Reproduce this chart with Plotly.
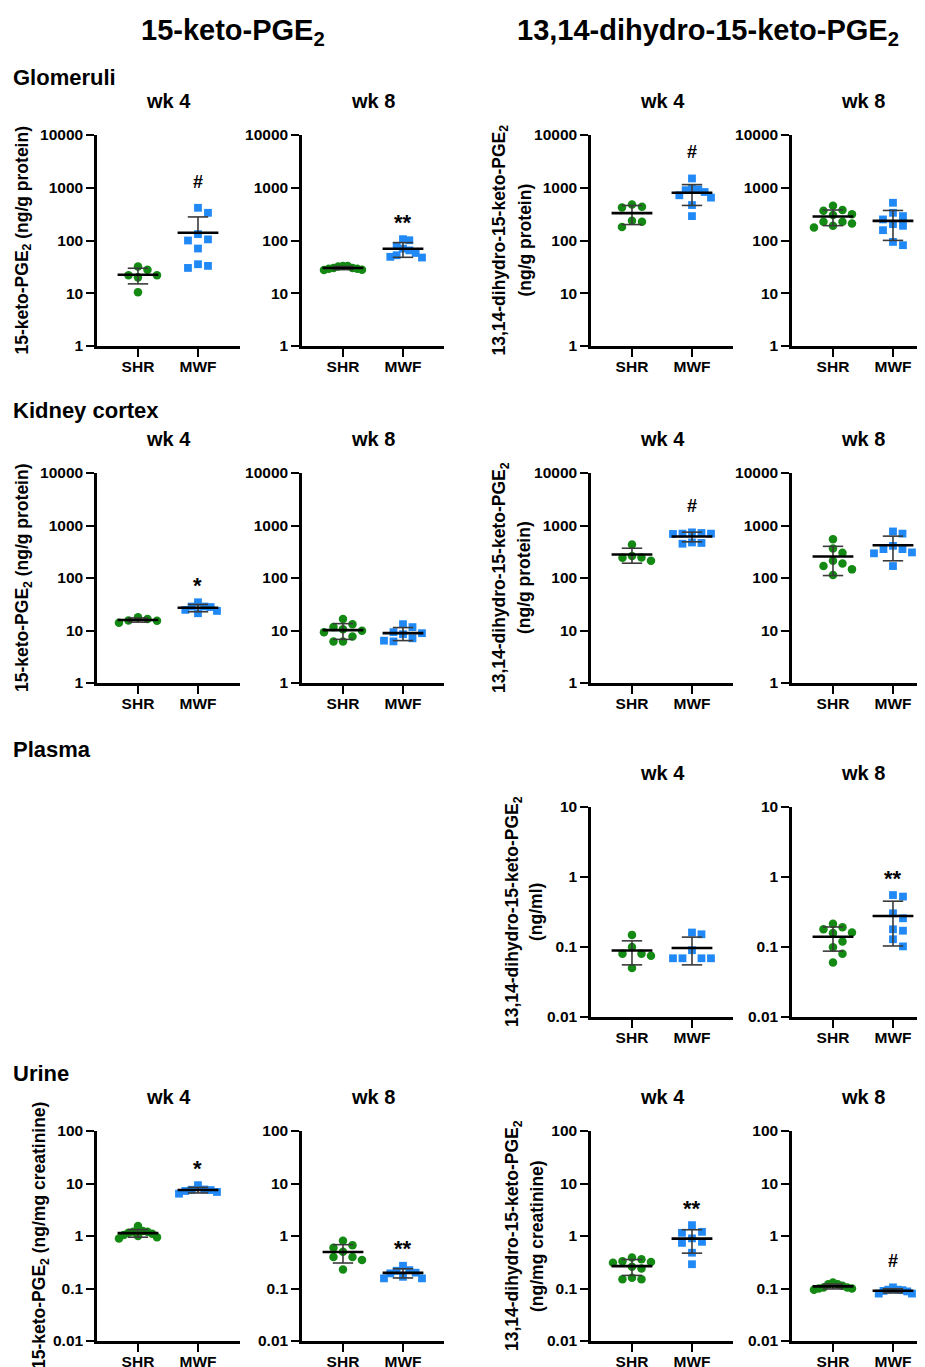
import math
import numpy as np
import plotly.graph_objects as go

# ---------------- data ----------------
groups = ["SHR", "MWF"]

glom_keto_wk4_shr = [22, 32, 28, 20, 10.5, 22]
glom_keto_wk4_mwf = [417, 335, 100, 132, 105, 70.5, 30.2, 35.5, 33]
glom_keto_wk8_shr = [30, 32, 33, 27.5, 33, 29, 28, 30, 29]
glom_keto_wk8_mwf = [65, 101, 106, 78, 47.5, 58, 49, 52.5, 70]
glom_dh_wk4_shr = [435, 481, 424, 181, 236, 226]
glom_dh_wk4_mwf = [1500, 900, 950, 930, 720, 830, 470, 290, 650]
glom_dh_wk8_shr = [456, 377, 365, 316, 226, 226, 190, 177, 303, 210]
glom_dh_wk8_mwf = [519, 335, 290, 251, 190, 204, 157, 94, 81.5]

ctx_keto_wk4_shr = [15.3, 17.9, 15.5, 16.6, 14.1]
ctx_keto_wk4_mwf = [23.6, 34.5, 28.6, 28, 21.3, 28.6, 24.7]
ctx_keto_wk8_shr = [11.6, 9.9, 13.2, 16.6, 10.6, 6.2, 6.2, 7.7, 9.3]
ctx_keto_wk8_mwf = [13.2, 6.2, 8.9, 9.3, 6.4, 11.6, 7.1, 8.5]
ctx_dh_wk4_shr = [213, 262, 436, 247, 243]
ctx_dh_wk4_mwf = [740, 690, 720, 700, 700, 465, 450, 475]
ctx_dh_wk8_shr = [366, 550, 303, 189, 169, 213, 114, 146]
ctx_dh_wk8_mwf = [700, 770, 355, 410, 355, 295, 307, 169]

pla_dh_wk4_shr = [0.149, 0.08, 0.075, 0.08, 0.05, 0.10]
pla_dh_wk4_mwf = [0.152, 0.161, 0.069, 0.069, 0.069, 0.069, 0.09]
pla_dh_wk8_shr = [0.214, 0.179, 0.191, 0.161, 0.158, 0.12, 0.099, 0.08, 0.06]
pla_dh_wk8_mwf = [0.525, 0.552, 0.257, 0.303, 0.171, 0.179, 0.129, 0.102]

uri_keto_wk4_shr = [1.2, 1.1, 1.55, 1.25, 1.2, 1.0, 0.95, 0.9, 1.15, 1.05]
uri_keto_wk4_mwf = [9.3, 6.9, 7.7, 7.5, 6.4, 7.2, 7.6]
uri_keto_wk8_shr = [0.6, 0.67, 0.81, 0.4, 0.5, 0.4, 0.23, 0.35]
uri_keto_wk8_mwf = [0.218, 0.156, 0.194, 0.224, 0.156, 0.271, 0.167, 0.2]
uri_dh_wk4_shr = [0.36, 0.32, 0.39, 0.33, 0.31, 0.15, 0.15, 0.16, 0.26, 0.24]
uri_dh_wk4_mwf = [1.61, 1.2, 1.15, 0.9, 0.775, 0.74, 0.48, 0.29]
uri_dh_wk8_shr = [0.12, 0.12, 0.105, 0.113, 0.13, 0.105, 0.095, 0.1, 0.1]
uri_dh_wk8_mwf = [0.09, 0.095, 0.105, 0.088, 0.08, 0.08, 0.093, 0.095]

tick_tissue = [1, 10, 100, 1000, 10000]
tick_tissue_text = ["1", "10", "100", "1000", "10000"]
tick_plasma = [0.01, 0.1, 1, 10]
tick_plasma_text = ["0.01", "0.1", "1", "10"]
tick_urine = [0.01, 0.1, 1, 10, 100]
tick_urine_text = ["0.01", "0.1", "1", "10", "100"]

col_titles = ["15-keto-PGE<sub>2</sub>", "13,14-dihydro-15-keto-PGE<sub>2</sub>"]
section_titles = ["Glomeruli", "Kidney cortex", "Plasma", "Urine"]
week_labels = ["wk 4", "wk 8"]

# (row, col, SHR values, MWF values, significance label over MWF)
panels = [
    (0, 0, glom_keto_wk4_shr, glom_keto_wk4_mwf, "#"),
    (0, 1, glom_keto_wk8_shr, glom_keto_wk8_mwf, "**"),
    (0, 2, glom_dh_wk4_shr, glom_dh_wk4_mwf, "#"),
    (0, 3, glom_dh_wk8_shr, glom_dh_wk8_mwf, ""),
    (1, 0, ctx_keto_wk4_shr, ctx_keto_wk4_mwf, "*"),
    (1, 1, ctx_keto_wk8_shr, ctx_keto_wk8_mwf, ""),
    (1, 2, ctx_dh_wk4_shr, ctx_dh_wk4_mwf, "#"),
    (1, 3, ctx_dh_wk8_shr, ctx_dh_wk8_mwf, ""),
    (2, 2, pla_dh_wk4_shr, pla_dh_wk4_mwf, ""),
    (2, 3, pla_dh_wk8_shr, pla_dh_wk8_mwf, "**"),
    (3, 0, uri_keto_wk4_shr, uri_keto_wk4_mwf, "*"),
    (3, 1, uri_keto_wk8_shr, uri_keto_wk8_mwf, "**"),
    (3, 2, uri_dh_wk4_shr, uri_dh_wk4_mwf, "**"),
    (3, 3, uri_dh_wk8_shr, uri_dh_wk8_mwf, "#"),
]

# ---------------- layout geometry ----------------
W, H = 925, 1367
PAGE_OFF = 8  # page body margin in the browser
FONT = "Liberation Sans, Arial, Helvetica, sans-serif"
GREEN = "#148a14"
BLUE = "#2189f5"
PX_PER_CAT = 60.0
LEFT_PAD = 0.683

col_px = [(97, 240), (302, 444), (591, 733), (792, 933)]
row_px = [(135, 346), (473, 683), (807, 1017), (1131, 1341)]
row_range = [(0, 4), (0, 4), (-2, 1), (-2, 2)]
row_ticks = [(tick_tissue, tick_tissue_text), (tick_tissue, tick_tissue_text),
             (tick_plasma, tick_plasma_text), (tick_urine, tick_urine_text)]


def px2x(px):
    return min(1.0, max(0.0, (px - PAGE_OFF) / W))


def px2y(py):
    return min(1.0, max(0.0, 1 - (py - PAGE_OFF) / H))


def swarm_offsets(vals, px_per_dec, step=10.0, dmin=9.0, maxhalf=19.0):
    ys = [math.log10(v) * px_per_dec for v in vals]
    order = sorted(range(len(vals)), key=lambda i: -ys[i])
    xs = [0.0] * len(vals)
    placed = []
    cands = [0.0]
    for m in range(1, 25):
        cands += [m * step, -m * step]
    for i in order:
        for c in cands:
            if all((c - xo) ** 2 + (ys[i] - yo) ** 2 >= dmin ** 2 for xo, yo in placed):
                xs[i] = c
                break
        placed.append((xs[i], ys[i]))
    m = max(abs(x) for x in xs)
    if m > maxhalf:
        xs = [x * maxhalf / m for x in xs]
    return [x / PX_PER_CAT for x in xs]


fig = go.Figure()
annotations = []
layout_axes = {}
TICKFONT = dict(family=FONT, size=15.5, color="black", weight="bold")

for k, (r, c, shr, mwf, sig) in enumerate(panels):
    idx = k + 1
    xa = "x" if idx == 1 else f"x{idx}"
    ya = "y" if idx == 1 else f"y{idx}"
    x0p, x1p = col_px[c]
    y0p, y1p = row_px[r]
    lo, hi = row_range[r]
    px_per_dec = (y1p - y0p) / (hi - lo)
    d0, d1 = px2x(x0p), px2x(x1p)
    width_units = (d1 - d0) * W / PX_PER_CAT

    mean_x, mean_y, err_x, err_y = [], [], [], []
    for gi, (vals, color, symbol) in enumerate(
            [(shr, GREEN, "circle"), (mwf, BLUE, "square")]):
        offs = swarm_offsets(vals, px_per_dec)
        fig.add_trace(go.Scatter(
            x=[gi + o for o in offs], y=vals, mode="markers",
            marker=dict(color=color, symbol=symbol, size=8.5 if symbol == "circle" else 7.8,
                        line=dict(width=0)),
            xaxis=xa, yaxis=ya, showlegend=False, hoverinfo="y"))
        m = float(np.mean(vals))
        sd = float(np.std(vals, ddof=1))
        mean_x += [gi - 0.34, gi + 0.34, None]
        mean_y += [m, m, None]
        top = m + sd
        bot = m - sd
        err_x += [gi - 0.17, gi + 0.17, None]
        err_y += [top, top, None]
        if bot > 0:
            err_x += [gi, gi, None, gi - 0.17, gi + 0.17, None]
            err_y += [top, bot, None, bot, bot, None]
        else:
            err_x += [gi, gi, None]
            err_y += [top, m, None]
        if gi == 1 and sig:
            ymax = max(max(vals), top)
            is_hash = sig == "#"
            annotations.append(dict(
                x=1, y=math.log10(ymax), xref=xa, yref=ya, text=sig,
                showarrow=False, yshift=26 if is_hash else 17,
                font=dict(family=FONT, size=18 if is_hash else 22,
                          color="black", weight="bold")))
    fig.add_trace(go.Scatter(x=err_x, y=err_y, mode="lines",
                             line=dict(color="#3a3a3a", width=1.6),
                             xaxis=xa, yaxis=ya, showlegend=False, hoverinfo="skip"))
    fig.add_trace(go.Scatter(x=mean_x, y=mean_y, mode="lines",
                             line=dict(color="black", width=2.6),
                             xaxis=xa, yaxis=ya, showlegend=False, hoverinfo="skip"))

    tv, tt = row_ticks[r]
    layout_axes["xaxis" if idx == 1 else f"xaxis{idx}"] = dict(
        domain=[d0, d1], anchor=ya, automargin=False,
        range=[-LEFT_PAD, -LEFT_PAD + width_units],
        tickmode="array", tickvals=[0, 1], ticktext=groups,
        showline=True, linecolor="black", linewidth=2.5,
        ticks="outside", ticklen=8, tickwidth=2.2, tickcolor="black",
        ticklabelstandoff=-3,
        showgrid=False, zeroline=False, fixedrange=True, tickfont=TICKFONT)
    layout_axes["yaxis" if idx == 1 else f"yaxis{idx}"] = dict(
        domain=[px2y(y1p), px2y(y0p)], anchor=xa, type="log", automargin=False,
        range=[lo, hi], tickmode="array", tickvals=tv, ticktext=tt,
        showline=True, linecolor="black", linewidth=2.5,
        ticks="outside", ticklen=8, tickwidth=2.2, tickcolor="black",
        showgrid=False, zeroline=False, fixedrange=True, tickfont=TICKFONT)

    # week label above the panel (centred on the full axis length)
    annotations.append(dict(
        x=px2x(x0p + 71), y=px2y(y0p - 34), xref="paper", yref="paper",
        text=week_labels[c % 2], showarrow=False, xanchor="center", yanchor="middle",
        font=dict(family=FONT, size=20, color="black", weight="bold")))


def ann(px, py, text, size, angle=0, xanchor="center"):
    annotations.append(dict(
        x=px2x(px), y=px2y(py), xref="paper", yref="paper", text=text,
        showarrow=False, xanchor=xanchor, yanchor="middle", textangle=angle,
        font=dict(family=FONT, size=size, color="black", weight="bold")))


# column headers
ann(233, 32, col_titles[0], 29)
ann(708, 32, col_titles[1], 29)

# section labels
for py, t in zip([77, 410, 749, 1073], section_titles):
    ann(11, py, t, 22, xanchor="left")

# y-axis titles
for r in (0, 1):
    cy = sum(row_px[r]) / 2
    ann(23, cy, "15-keto-PGE<sub>2</sub> (ng/g protein)", 17.5, -90)
    ann(500, cy, "13,14-dihydro-15-keto-PGE<sub>2</sub>", 17.5, -90)
    ann(524, cy, "(ng/g protein)", 17.5, -90)
cy = sum(row_px[2]) / 2
ann(513, cy, "13,14-dihydro-15-keto-PGE<sub>2</sub>", 17.5, -90)
ann(536, cy, "(ng/ml)", 17.5, -90)
cy = sum(row_px[3]) / 2
ann(40, cy, "15-keto-PGE<sub>2</sub> (ng/mg creatinine)", 17.5, -90)
ann(513, cy, "13,14-dihydro-15-keto-PGE<sub>2</sub>", 17.5, -90)
ann(537, cy, "(ng/mg creatinine)", 17.5, -90)

fig.update_layout(
    template="none",
    width=W, height=H, margin=dict(l=0, r=0, t=0, b=0, autoexpand=False),
    paper_bgcolor="white", plot_bgcolor="white", showlegend=False,
    annotations=annotations, **layout_axes)

fig.write_html("out.html")
